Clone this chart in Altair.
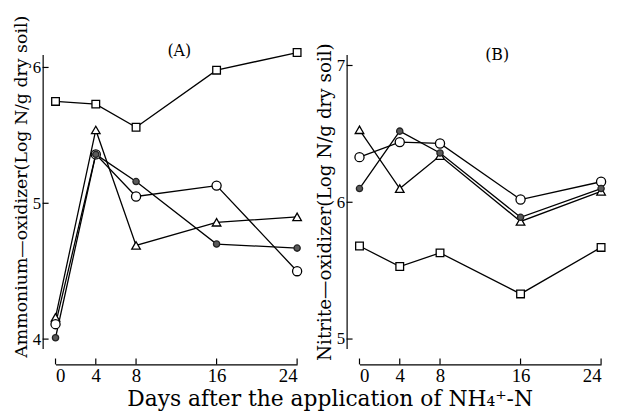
import altair as alt
import pandas as pd

# ---- data ----
days = [0, 4, 8, 16, 24]

a_square = [5.75, 5.73, 5.56, 5.98, 6.11]
a_triangle = [4.16, 5.54, 4.69, 4.86, 4.90]
a_open = [4.11, 5.36, 5.05, 5.13, 4.50]
a_filled = [4.01, 5.36, 5.16, 4.70, 4.67]

b_square = [5.68, 5.53, 5.63, 5.33, 5.67]
b_triangle = [6.53, 6.10, 6.34, 5.86, 6.08]
b_open = [6.33, 6.44, 6.43, 6.02, 6.15]
b_filled = [6.10, 6.52, 6.36, 5.89, 6.10]

x_ticks = [0, 4, 8, 16, 24]
a_y_ticks = [4, 5, 6]
b_y_ticks = [5, 6, 7]
a_y_domain = [3.93, 6.095]
b_y_domain = [4.93, 7.08]

panel_labels = ["(A)", "(B)"]
y_titles = ["Ammonium—oxidizer(Log N/g dry soil)", "Nitrite—oxidizer(Log N/g dry soil)"]
x_title = "Days after the application of NH₄⁺-N"

SERIF = "DejaVu Serif"
NUM = "Liberation Serif"
W, H = 244, 297
XOFF, YOFF = 16, 13


def panel(vals, y_dom, y_ticks, y_title, title_size, label, label_x, label_y, title_y=None):
    names = ["square", "triangle", "open", "filled"]
    rows = []
    for n, v in zip(names, vals):
        for d, y in zip(days, v):
            rows.append({"day": d, "value": y, "series": n})
    df = pd.DataFrame(rows)

    yaxis_kw = dict(values=y_ticks, offset=YOFF, ticks=False, labelPadding=2, title=y_title,
                    titleFont=SERIF, titleFontSize=title_size, titleFontWeight="normal",
                    titleColor="black", titlePadding=2, grid=False, domainColor="black",
                    domainWidth=1.2, labelFont=NUM, labelFontSize=17, labelColor="black")
    if title_y is not None:
        yaxis_kw["titleY"] = title_y
    x_enc = alt.X("day:Q", scale=alt.Scale(domain=[0, 24], nice=False, zero=False),
                  axis=alt.Axis(values=x_ticks, offset=XOFF, ticks=False, labelPadding=2, title=None,
                                grid=False, domainColor="black", domainWidth=1.2, labelAngle=0,
                                labelFont=NUM, labelFontSize=19, labelColor="black"))
    y_enc = alt.Y("value:Q", scale=alt.Scale(domain=y_dom, nice=False, zero=False),
                  axis=alt.Axis(**yaxis_kw))

    base = alt.Chart(df)
    lines = base.mark_line(color="black", strokeWidth=1.3).encode(x=x_enc, y=y_enc, detail="series:N")

    def pts(name, shape, size, fill, stroke="black"):
        return base.transform_filter(alt.datum.series == name).mark_point(
            shape=shape, size=size, filled=True, fill=fill, stroke=stroke, strokeWidth=1.3, opacity=1
        ).encode(x=x_enc, y=y_enc)

    sq = pts("square", "square", 60, "white")
    tri = pts("triangle", "triangle-up", 75, "white")
    op = pts("open", "circle", 85, "white")
    fi = pts("filled", "circle", 40, "#5a5a5a", "#222222")

    ydf = pd.DataFrame({"value": y_ticks})
    ytick = alt.Chart(ydf).mark_rule(color="black", strokeWidth=1.2).encode(
        y=y_enc, x=alt.value(-YOFF), x2=alt.value(-YOFF + 6))
    xdf = pd.DataFrame({"day": x_ticks})
    xtick = alt.Chart(xdf).mark_rule(color="black", strokeWidth=1.2).encode(
        x=x_enc, y=alt.value(H + XOFF), y2=alt.value(H + XOFF - 6))

    ldf = pd.DataFrame({"label": [label]})
    lab = alt.Chart(ldf).mark_text(font=SERIF, fontSize=16, color="black").encode(
        text="label:N", x=alt.value(label_x), y=alt.value(label_y))

    return alt.layer(lines, sq, tri, op, fi, ytick, xtick, lab).properties(width=W, height=H)


pa = panel([a_square, a_triangle, a_open, a_filled], a_y_domain, a_y_ticks, y_titles[0], 17.5,
           panel_labels[0], 125, -4, title_y=133)
pb = panel([b_square, b_triangle, b_open, b_filled], b_y_domain, b_y_ticks, y_titles[1], 18.5,
           panel_labels[1], 139, 1)

chart = alt.hconcat(pa, pb, spacing=10).properties(
    title=alt.TitleParams(x_title, orient="bottom", anchor="middle", font=SERIF, fontSize=22,
                          fontWeight="normal", color="black", offset=4, dx=20),
    padding={"left": 4, "top": 5, "right": 0, "bottom": 0},
).configure_view(stroke=None)

chart.save("out.html", embed_options={"renderer": "svg", "actions": False})
